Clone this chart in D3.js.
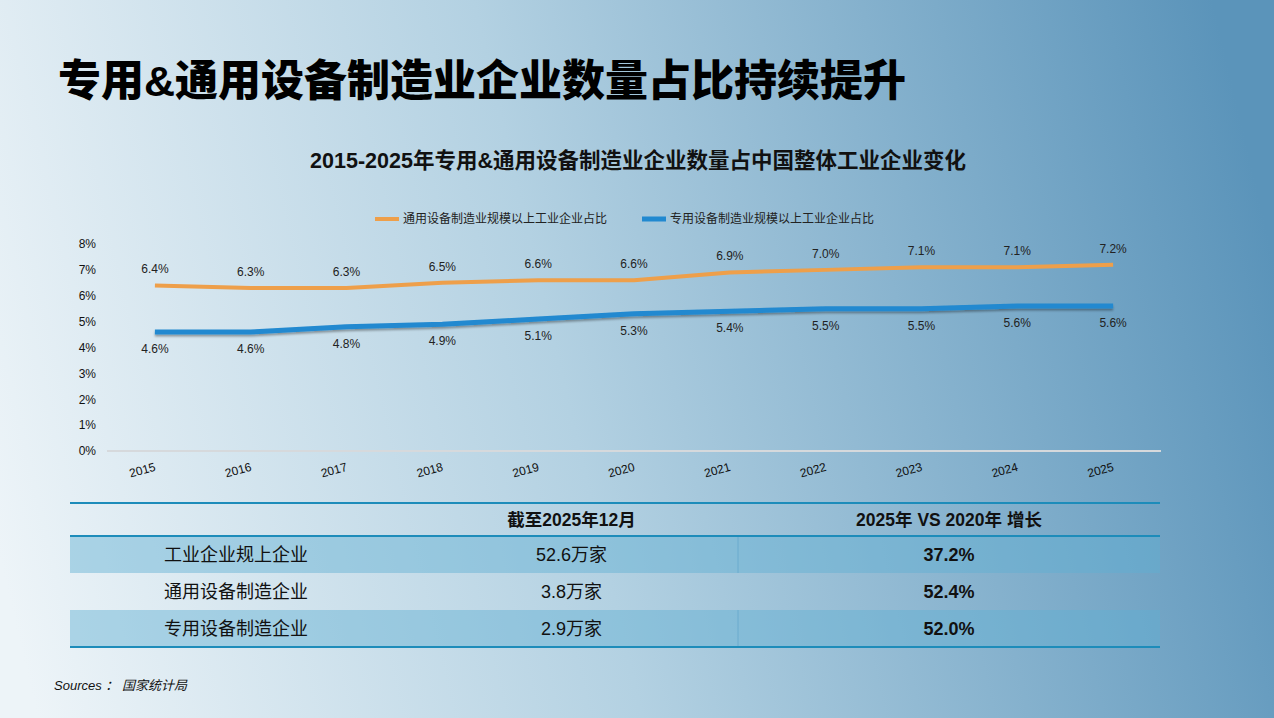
<!DOCTYPE html>
<html>
<head>
<meta charset="utf-8">
<script src="https://cdn.jsdelivr.net/npm/d3@7"></script>
<style>
  body { margin: 0; padding: 0; overflow: hidden; }
  svg { display: block; }
  text { font-family: "Liberation Sans", "Noto Sans CJK SC", sans-serif; }
</style>
</head>
<body>
<div id="chart"></div>
<script>
// chart values
let years = ['2015', '2016', '2017', '2018', '2019', '2020', '2021', '2022', '2023', '2024', '2025'];
let generalShare = [6.4, 6.3, 6.3, 6.5, 6.6, 6.6, 6.9, 7.0, 7.1, 7.1, 7.2]; // 通用设备
let specialShare = [4.6, 4.6, 4.8, 4.9, 5.1, 5.3, 5.4, 5.5, 5.5, 5.6, 5.6]; // 专用设备
let yTicks = [0, 1, 2, 3, 4, 5, 6, 7, 8];
let seriesNames = ['通用设备制造业规模以上工业企业占比', '专用设备制造业规模以上工业企业占比'];

let tableHeaders = ['', '截至2025年12月', '2025年 VS 2020年 增长'];
let rowLabels = ['工业企业规上企业', '通用设备制造企业', '专用设备制造企业'];
let counts = ['52.6万家', '3.8万家', '2.9万家'];
let growth = ['37.2%', '52.4%', '52.0%'];

let width = 1274;
let height = 718;
let orange = '#ee9f4a';
let blue = '#2189d0';

let svg = d3.select('#chart')
  .append('svg')
  .attr('width', width)
  .attr('height', height);

let defs = svg.append('defs');
// mostly left-to-right, slightly tilted
let bg = defs.append('linearGradient')
  .attr('id', 'bg')
  .attr('gradientUnits', 'userSpaceOnUse')
  .attr('x1', 0).attr('y1', 560)
  .attr('x2', 1274).attr('y2', 260);
bg.append('stop').attr('offset', 0).attr('stop-color', '#edf4f8');
bg.append('stop').attr('offset', 0.45).attr('stop-color', '#b3d1e2');
bg.append('stop').attr('offset', 1).attr('stop-color', '#5b94ba');

let shadow = defs.append('filter').attr('id', 'shadow')
  .attr('x', '-5%').attr('y', '-50%').attr('width', '110%').attr('height', '200%');
shadow.append('feDropShadow')
  .attr('dx', 0).attr('dy', 2).attr('stdDeviation', 1.2)
  .attr('flood-color', '#000').attr('flood-opacity', 0.35);

svg.append('rect')
  .attr('width', width)
  .attr('height', height)
  .attr('fill', 'url(#bg)');

// titles
svg.append('text')
  .attr('x', 58)
  .attr('y', 96)
  .attr('font-size', 43)
  .attr('font-weight', 900)
  .attr('fill', '#000')
  .text('专用&通用设备制造业企业数量占比持续提升');

svg.append('text')
  .attr('x', 638)
  .attr('y', 168)
  .attr('text-anchor', 'middle')
  .attr('font-size', 21.5)
  .attr('font-weight', 700)
  .attr('fill', '#111')
  .text('2015-2025年专用&通用设备制造业企业数量占中国整体工业企业变化');

// scales
let xScale = d3.scalePoint()
  .domain(years)
  .range([107, 1161])
  .padding(0.5);

let yScale = d3.scaleLinear()
  .domain([0, 8])
  .range([451, 244]);

// y axis labels
let yAxis = svg.append('g')
  .attr('transform', 'translate(96,0)')
  .call(d3.axisLeft(yScale).tickValues(yTicks).tickSize(0).tickPadding(0).tickFormat(d => d + '%'));
yAxis.select('.domain').remove();
yAxis.selectAll('text')
  .attr('font-size', 12)
  .attr('fill', '#111')
  .style('font-family', '"Liberation Sans", sans-serif');

// x axis
let xAxis = svg.append('g')
  .attr('transform', 'translate(0,451)')
  .call(d3.axisBottom(xScale).tickSize(0).tickFormat(d => d));
xAxis.select('.domain')
  .attr('d', 'M107,0H1161')
  .attr('stroke', '#d6d9dc')
  .attr('stroke-width', 2);
xAxis.selectAll('text')
  .attr('font-size', 12)
  .attr('fill', '#111')
  .attr('text-anchor', 'middle')
  .attr('y', 0)
  .attr('dy', 0)
  .attr('transform', 'translate(-12,23) rotate(-15)');

// lines
let line = d3.line()
  .x((d, i) => xScale(years[i]))
  .y(d => yScale(d));

svg.append('path')
  .datum(generalShare)
  .attr('d', line)
  .attr('fill', 'none')
  .attr('stroke', orange)
  .attr('stroke-width', 4)
  .attr('stroke-linejoin', 'round');

svg.append('path')
  .datum(specialShare)
  .attr('d', line)
  .attr('fill', 'none')
  .attr('stroke', blue)
  .attr('stroke-width', 5)
  .attr('stroke-linejoin', 'round')
  .attr('filter', 'url(#shadow)');

// data labels
svg.selectAll('.lab-g')
  .data(generalShare)
  .enter()
  .append('text')
  .attr('class', 'lab-g')
  .attr('x', (d, i) => xScale(years[i]))
  .attr('y', d => yScale(d) - 12)
  .attr('text-anchor', 'middle')
  .attr('font-size', 12)
  .attr('fill', '#222')
  .text(d => d.toFixed(1) + '%');

svg.selectAll('.lab-s')
  .data(specialShare)
  .enter()
  .append('text')
  .attr('class', 'lab-s')
  .attr('x', (d, i) => xScale(years[i]))
  .attr('y', d => yScale(d) + 21)
  .attr('text-anchor', 'middle')
  .attr('font-size', 12)
  .attr('fill', '#222')
  .text(d => d.toFixed(1) + '%');

// legend
let legend = svg.append('g');
[[375, orange, 4], [642, blue, 5]].forEach(function(item, i) {
  legend.append('line')
    .attr('x1', item[0]).attr('x2', item[0] + 24)
    .attr('y1', 219).attr('y2', 219)
    .attr('stroke', item[1])
    .attr('stroke-width', item[2]);
  legend.append('text')
    .attr('x', item[0] + 28)
    .attr('y', 223)
    .attr('font-size', 12)
    .attr('fill', '#222')
    .text(seriesNames[i]);
});

// table
let colEdges = [70, 405, 738, 1160];
let colCenter = i => (colEdges[i] + colEdges[i + 1]) / 2;
let rowScale = d3.scaleBand()
  .domain(d3.range(rowLabels.length))
  .range([536, 647]);

let table = svg.append('g');

table.selectAll('.shade')
  .data([0, 2])
  .enter()
  .append('rect')
  .attr('x', colEdges[0])
  .attr('width', colEdges[3] - colEdges[0])
  .attr('y', d => rowScale(d))
  .attr('height', rowScale.bandwidth())
  .attr('fill', 'rgba(95,175,210,0.45)');

table.selectAll('.divider')
  .data([0, 2])
  .enter()
  .append('line')
  .attr('x1', colEdges[2]).attr('x2', colEdges[2])
  .attr('y1', d => rowScale(d))
  .attr('y2', d => rowScale(d) + rowScale.bandwidth())
  .attr('stroke', 'rgba(90,160,200,0.6)')
  .attr('stroke-width', 1);

[503, 536, 647].forEach(function(y) {
  table.append('line')
    .attr('x1', colEdges[0]).attr('x2', colEdges[3])
    .attr('y1', y).attr('y2', y)
    .attr('stroke', '#1d8cba')
    .attr('stroke-width', 2);
});

tableHeaders.forEach(function(h, i) {
  if (!h) return;
  table.append('text')
    .attr('x', colCenter(i))
    .attr('y', 526)
    .attr('text-anchor', 'middle')
    .attr('font-size', 17.5)
    .attr('font-weight', 700)
    .attr('fill', '#111')
    .text(h);
});

rowLabels.forEach(function(r, i) {
  let yMid = rowScale(i) + rowScale.bandwidth() / 2 + 6;
  table.append('text')
    .attr('x', 164)
    .attr('y', yMid)
    .attr('font-size', 18)
    .attr('fill', '#111')
    .text(r);
  table.append('text')
    .attr('x', colCenter(1))
    .attr('y', yMid)
    .attr('text-anchor', 'middle')
    .attr('font-size', 18)
    .attr('fill', '#111')
    .text(counts[i]);
  table.append('text')
    .attr('x', colCenter(2))
    .attr('y', yMid)
    .attr('text-anchor', 'middle')
    .attr('font-size', 18)
    .attr('font-weight', 700)
    .attr('fill', '#111')
    .text(growth[i]);
});

// source note
svg.append('text')
  .attr('x', 54)
  .attr('y', 690)
  .attr('font-size', 13)
  .attr('font-style', 'italic')
  .attr('fill', '#111')
  .text('Sources ： 国家统计局');
</script>
</body>
</html>
